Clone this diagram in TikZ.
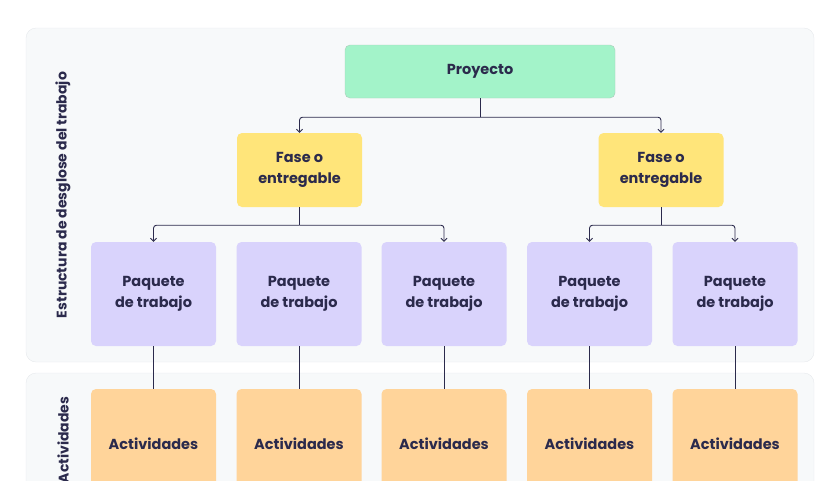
\documentclass[tikz,border=0pt]{standalone}
\usepackage{fontspec}
\setmainfont{Poppins}
\usepackage{tikz}
\usetikzlibrary{arrows.meta}
\definecolor{ink}{HTML}{2B2A4C}
\definecolor{panelfill}{HTML}{F7F9FA}
\definecolor{panelline}{HTML}{E6E9EC}
\definecolor{projfill}{HTML}{A3F3C9}
\definecolor{phasefill}{HTML}{FFE57A}
\definecolor{packfill}{HTML}{D9D3FC}
\definecolor{actfill}{HTML}{FFD49A}
\tikzset{
  panel/.style={draw=panelline, fill=panelfill, rounded corners=10pt},
  box/.style={rectangle, rounded corners=5pt, text centered, align=center, text=ink, font=\fontsize{14.5}{21}\selectfont\bfseries, inner sep=0pt},
  proj/.style={box, draw=projfill!70!black!60, fill=projfill, minimum width=270pt, minimum height=53pt},
  phase/.style={box, fill=phasefill, minimum width=125pt, minimum height=74pt},
  pack/.style={box, fill=packfill, minimum width=125pt, minimum height=104pt},
  act/.style={box, fill=actfill, minimum width=125pt, minimum height=110pt},
  side/.style={rotate=90, text=ink, font=\fontsize{14}{16}\selectfont\bfseries},
  arrow/.style={draw=ink, line width=0.9pt, -{Straight Barb[length=3pt,width=6pt]}, rounded corners=3pt},
  line/.style={draw=ink, line width=0.9pt}
}
\begin{document}
\begin{tikzpicture}[x=1pt, y=-1pt]
\useasboundingbox (0,0) rectangle (840,480);
\clip (0,0) rectangle (840,480);

\draw[panel] (26,28) rectangle (814,362);
\draw[panel] (26,373) rectangle (814,520);
\node[side] (wbs) at (63,195) {Estructura de desglose del trabajo};
\node[side] (acts) at (63,440) {Actividades};

\node (proj) [proj] at (480,71.5) {Proyecto};
\node (ph1) [phase] at (299.5,170) {Fase o\\entregable};
\node (ph2) [phase] at (661,170) {Fase o\\entregable};

\foreach \i/\x in {1/153.5, 2/299, 3/444, 4/589.5, 5/735} {
  \node (pk\i) [pack] at (\x,294) {Paquete\\de trabajo};
  \node (ac\i) [act] at (\x,444) {Actividades};
  \draw [line] (pk\i.south) -- (ac\i.north);
}

% tree connectors
\coordinate (j0) at ([yshift=-19pt]proj.south);
\coordinate (j1) at ([yshift=-18pt]ph1.south);
\coordinate (j2) at ([yshift=-18pt]ph2.south);
\draw [line] (proj.south) -- (j0);
\draw [arrow] (j0) -| (ph1.north);
\draw [arrow] (j0) -| (ph2.north);
\draw [line] (ph1.south) -- (j1);
\draw [arrow] (j1) -| (pk1.north);
\draw [arrow] (j1) -| (pk3.north);
\draw [line] (ph2.south) -- (j2);
\draw [arrow] (j2) -| (pk4.north);
\draw [arrow] (j2) -| (pk5.north);

\end{tikzpicture}
\end{document}
